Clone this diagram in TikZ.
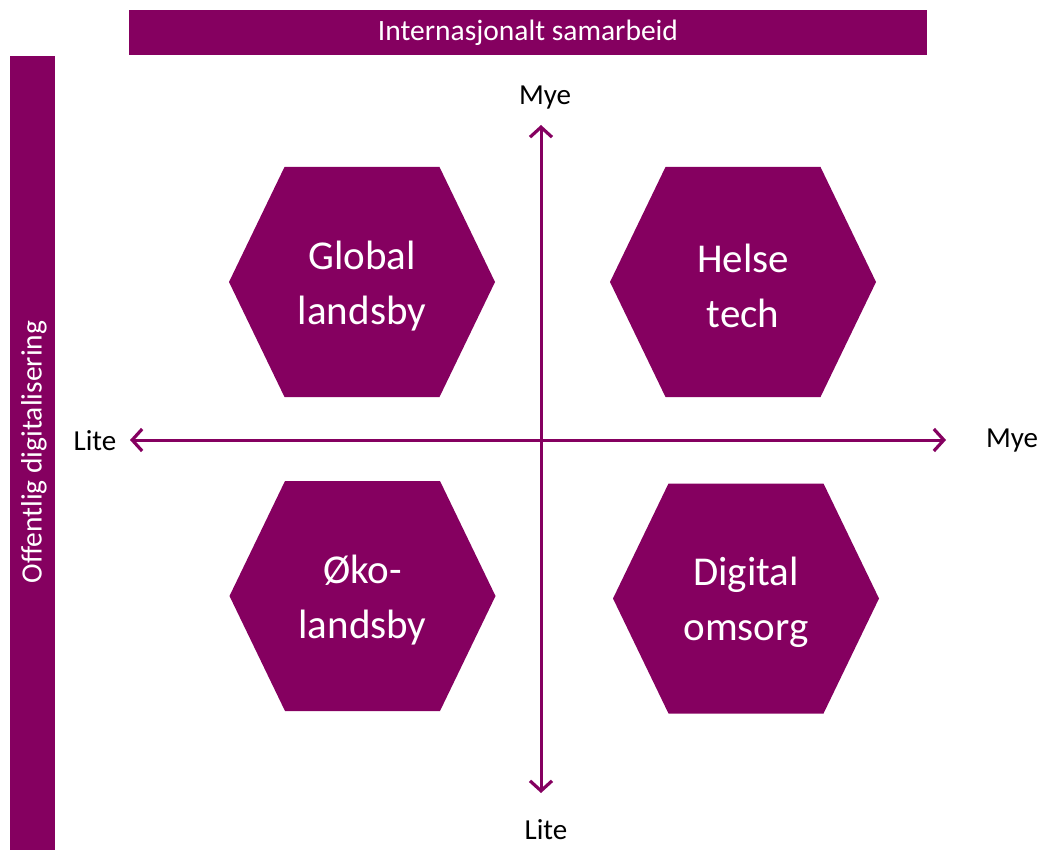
\documentclass[tikz,border=0pt]{standalone}
\usepackage{fontspec}
\setmainfont{Carlito}
\usetikzlibrary{arrows.meta,calc}
\definecolor{purp}{RGB}{133,0,96}
\tikzset{
  bar/.style={fill=purp,draw=none},
  bartext/.style={text=white,font=\fontsize{29.5}{34}\selectfont,inner sep=0pt},
  hexfill/.style={fill=purp,draw=none},
  hextext/.style={text=white,font=\fontsize{41}{55}\selectfont,align=center,inner sep=0pt},
  axislabel/.style={text=black,font=\fontsize{29}{34}\selectfont,inner sep=0pt},
  axisarrow/.style={draw=purp,line width=3pt,{Straight Barb[length=10pt,width=22pt,line width=3.2pt]}-{Straight Barb[length=10pt,width=22pt,line width=3.2pt]}}
}
\newcommand{\hexa}[4]{%
  \coordinate (#1) at (#2,#3);
  \path[hexfill] ($(#1)+(-133,0)$) -- ($(#1)+(-77.5,-115)$) -- ($(#1)+(77.5,-115)$)
     -- ($(#1)+(133,0)$) -- ($(#1)+(77.5,115)$) -- ($(#1)+(-77.5,115)$) -- cycle;
  \node[hextext] (#1text) at ($(#1)+(0,4)$) {#4};
}
\begin{document}
\begin{tikzpicture}[x=1pt,y=-1pt]
\useasboundingbox (0,0) rectangle (1039,850);
% bars
\path[bar] (129,10) rectangle (927,55);
\node[bartext] (toptext) at (528,33) {Internasjonalt samarbeid};
\path[bar] (10,56) rectangle (55,850);
\node[bartext,rotate=90] (lefttext) at (34,452) {Offentlig digitalisering};
% axes
\coordinate (vtop) at (541,125);
\coordinate (vbot) at (541,793);
\coordinate (hleft) at (130,440);
\coordinate (hright) at (946,440);
\draw[axisarrow] (vbot) -- (vtop);
\draw[axisarrow] (hleft) -- (hright);
\node[axislabel] (mtop) at (545,98) {Mye};
\node[axislabel] (lbot) at (546,830) {Lite};
\node[axislabel] (lleft) at (95,441) {Lite};
\node[axislabel] (mright) at (1012,441) {Mye};
% hexagons
\hexa{global}{362}{282}{Global\\landsby}
\hexa{helse}{743}{282}{Helse\\tech}
\hexa{oko}{362.5}{596}{Øko-\\landsby}
\hexa{digital}{746}{598.5}{Digital\\omsorg}
\end{tikzpicture}
\end{document}
